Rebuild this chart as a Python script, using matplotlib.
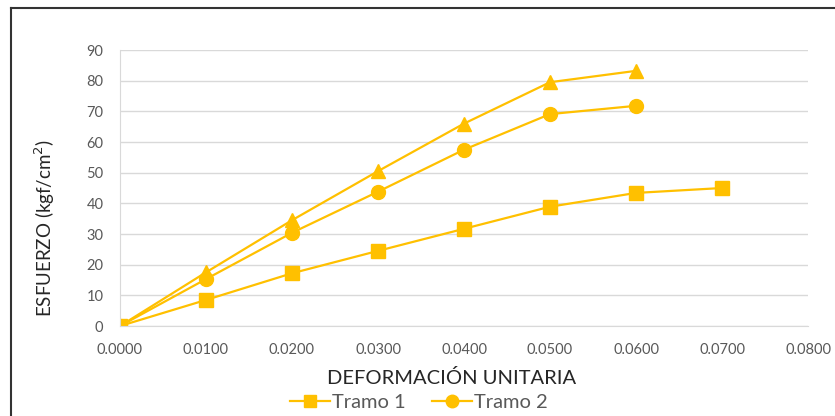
import matplotlib.pyplot as plt
from matplotlib.lines import Line2D

# data
deformacion = [0.0, 0.01, 0.02, 0.03, 0.04, 0.05, 0.06, 0.07]
tramo1 = [0.0, 8.5, 17.2, 24.5, 31.7, 38.9, 43.4, 45.0]
tramo2 = [0.0, 15.3, 30.4, 43.8, 57.5, 69.1, 71.8]
tramo3 = [0.0, 17.5, 34.5, 50.5, 66.0, 79.5, 83.2]
x_ticks = [0.0, 0.01, 0.02, 0.03, 0.04, 0.05, 0.06, 0.07, 0.08]
y_ticks = [0, 10, 20, 30, 40, 50, 60, 70, 80, 90]

gold = '#FFC000'
txt = '#595959'
plt.rcParams['font.family'] = ['Lato', 'DejaVu Sans']

fig = plt.figure(figsize=(8.35, 4.16), dpi=100)
ax = fig.add_axes([0.1437, 0.2163, 0.824, 0.6635])

ax.plot(deformacion[:7], tramo3, color=gold, lw=1.6, marker='^', ms=10, label='Tramo 3')
ax.plot(deformacion[:7], tramo2, color=gold, lw=1.6, marker='o', ms=10, label='Tramo 2')
ax.plot(deformacion, tramo1, color=gold, lw=1.6, marker='s', ms=10, label='Tramo 1')

ax.set_xlim(0, 0.08)
ax.set_ylim(0, 90)
ax.set_xticks(x_ticks)
ax.set_xticklabels([f'{v:.4f}' for v in x_ticks])
ax.set_yticks(y_ticks)
ax.tick_params(length=0, labelsize=10.5, colors=txt)
ax.tick_params(axis='x', pad=12)
ax.tick_params(axis='y', pad=12)
ax.grid(axis='y', color='#D9D9D9', lw=1)
ax.set_axisbelow(True)
for s in ['top', 'right']:
    ax.spines[s].set_visible(False)
for s in ['left', 'bottom']:
    ax.spines[s].set_color('#D9D9D9')

ax.set_xlabel('DEFORMACIÓN UNITARIA', fontsize=14.5, color='#262626')
ax.xaxis.set_label_coords(0.4826, -0.155)
ax.set_ylabel('ESFUERZO (kgf/cm$^2$)', fontsize=13.5, color='#262626', va='center')
ax.yaxis.set_label_coords(-0.109, 0.355)

handles = [Line2D([], [], color=gold, lw=1.6, marker='s', ms=9),
           Line2D([], [], color=gold, lw=1.6, marker='o', ms=9)]
fig.legend(handles, ['Tramo 1', 'Tramo 2'], loc='center', bbox_to_anchor=(0.502, 0.032),
           ncol=2, frameon=False, fontsize=14.5, labelcolor=txt, handlelength=2.0,
           handletextpad=0.1, columnspacing=1.3)

# outer frame (left and top edges visible in the crop)
fig.add_artist(Line2D([11 / 835, 11 / 835], [0, 1 - 8 / 416], transform=fig.transFigure, color='#333333', lw=1.5))
fig.add_artist(Line2D([11 / 835, 1], [1 - 8 / 416, 1 - 8 / 416], transform=fig.transFigure, color='#333333', lw=1.5))

fig.savefig('out.png', dpi=100)
